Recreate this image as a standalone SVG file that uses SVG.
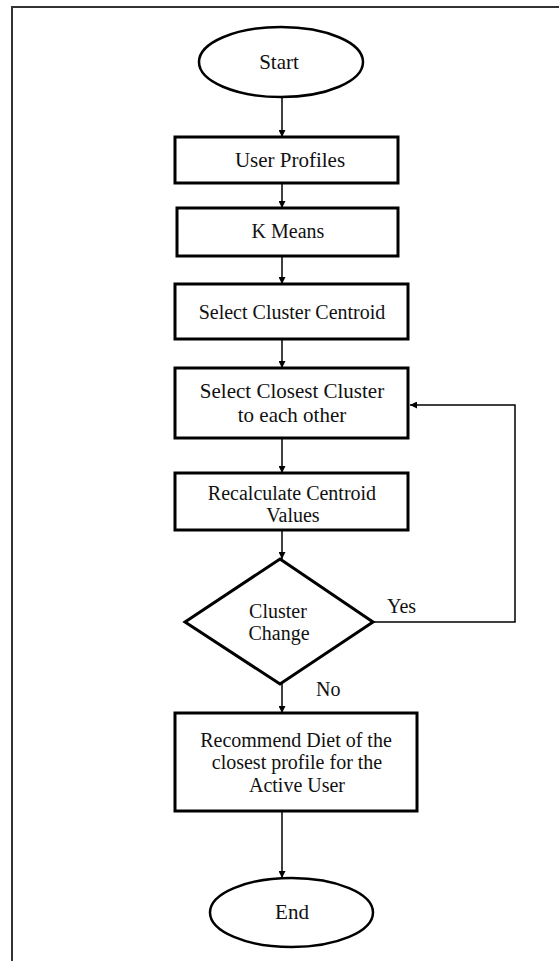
<svg xmlns="http://www.w3.org/2000/svg" width="559" height="961" viewBox="0 0 559 961">
<defs>
<marker id="ah" viewBox="0 0 10 10" refX="10" refY="5" markerWidth="7" markerHeight="7" markerUnits="userSpaceOnUse" orient="auto">
<path d="M0,0 L10,5 L0,10 z" fill="#000"/>
</marker>
<style>
.box{fill:#fff;stroke:#000;stroke-width:3}
.ell{fill:#fff;stroke:#000;stroke-width:2.5}
.t{font-family:"Liberation Serif","Times New Roman",serif;font-size:20px;fill:#111;text-anchor:middle}
.tl{font-family:"Liberation Serif","Times New Roman",serif;font-size:20px;fill:#111}
.big{font-size:21px}
.c{fill:none;stroke:#000;stroke-width:1.5;marker-end:url(#ah)}
.cn{fill:none;stroke:#000;stroke-width:1.5}
</style>
</defs>
<rect x="0" y="0" width="559" height="961" fill="#fff"/>
<rect x="12" y="7" width="600" height="1000" fill="none" stroke="#333" stroke-width="2"/>
<g id="connectors">
<line class="c" x1="282" y1="97" x2="282" y2="137"/>
<line class="c" x1="282" y1="183" x2="282" y2="208"/>
<line class="c" x1="282" y1="256" x2="282" y2="284"/>
<line class="c" x1="282" y1="339" x2="282" y2="368"/>
<line class="c" x1="282" y1="438" x2="282" y2="473"/>
<line class="c" x1="282" y1="530" x2="282" y2="559"/>
<line class="c" x1="282" y1="683" x2="282" y2="713"/>
<line class="c" x1="282" y1="811" x2="282" y2="878"/>
<polyline class="c" points="372,622 515,622 515,405 410,405"/>
<text class="tl" x="387" y="613">Yes</text>
<text class="tl" x="316" y="696">No</text>
</g>
<g id="start">
<ellipse class="ell" cx="281" cy="62" rx="82" ry="35"/>
<text class="t big" x="279" y="69">Start</text>
</g>
<g id="user-profiles">
<rect class="box" x="175" y="137" width="223" height="46"/>
<text class="t big" x="290" y="167">User Profiles</text>
</g>
<g id="k-means">
<rect class="box" x="177" y="208" width="221" height="48"/>
<text class="t" x="288" y="238">K Means</text>
</g>
<g id="select-centroid">
<rect class="box" x="175" y="284" width="233" height="55"/>
<text class="t" x="292" y="319">Select Cluster Centroid</text>
</g>
<g id="select-closest">
<rect class="box" x="175" y="368" width="233" height="70"/>
<text class="t big" x="292" y="398">Select Closest Cluster</text>
<text class="t big" x="292" y="422">to each other</text>
</g>
<g id="recalculate">
<rect class="box" x="175" y="473" width="233" height="57"/>
<text class="t" x="292" y="500">Recalculate Centroid</text>
<text class="t" x="293" y="522">Values</text>
</g>
<g id="cluster-change">
<polygon class="box" points="280,559 373,622 280,684 185,622"/>
<text class="t" x="278" y="618">Cluster</text>
<text class="t" x="279" y="640">Change</text>
</g>
<g id="recommend">
<rect class="box" x="175" y="713" width="242" height="98"/>
<text class="t" x="296" y="747">Recommend Diet of the</text>
<text class="t" x="297" y="769">closest profile for the</text>
<text class="t" x="297" y="792">Active User</text>
</g>
<g id="end">
<ellipse class="ell" cx="291.5" cy="912.5" rx="81.5" ry="34.5"/>
<text class="t big" x="292" y="919">End</text>
</g>
</svg>
